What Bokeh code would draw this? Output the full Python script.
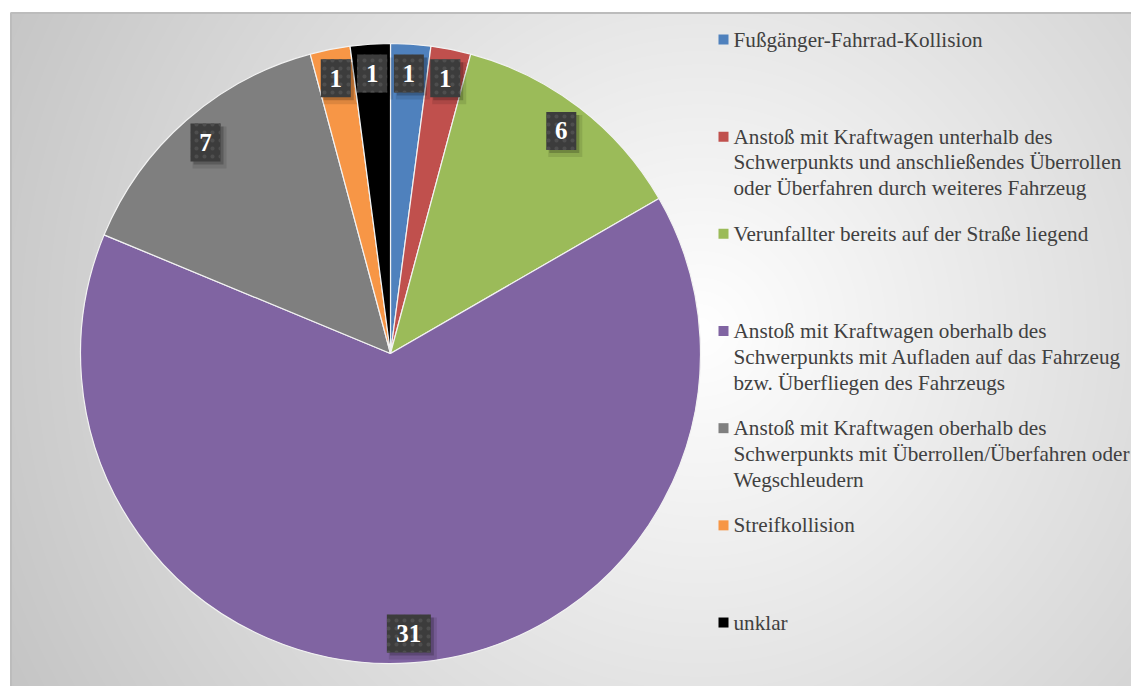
import numpy as np
from bokeh.plotting import figure
from bokeh.models import Range1d
from bokeh.embed import file_html
from bokeh.resources import INLINE
from bokeh.core.properties import value

# ---- data ----
categories = [
    "Fußgänger-Fahrrad-Kollision",
    "Anstoß mit Kraftwagen unterhalb des\nSchwerpunkts und anschließendes Überrollen\noder Überfahren durch weiteres Fahrzeug",
    "Verunfallter bereits auf der Straße liegend",
    "Anstoß mit Kraftwagen oberhalb des\nSchwerpunkts mit Aufladen auf das Fahrzeug\nbzw. Überfliegen des Fahrzeugs",
    "Anstoß mit Kraftwagen oberhalb des\nSchwerpunkts mit Überrollen/Überfahren oder\nWegschleudern",
    "Streifkollision",
    "unklar",
]
values = [1, 1, 6, 31, 7, 1, 1]
colors = ["#4f81bd", "#c0504d", "#9bbb59", "#8064a2", "#7f7f7f", "#f79646", "#000000"]

FONT = value("Liberation Serif")

# ---- layout ----
W, H = 1131, 686
def sx(x):  # screen x -> data x
    return x
def sy(y):  # screen y -> data y
    return H - y

p = figure(width=W, height=H, x_range=Range1d(0, W), y_range=Range1d(0, H),
           output_backend="svg", toolbar_location=None, min_border=0)
p.axis.visible = False
p.grid.visible = False
p.outline_line_color = None
p.background_fill_color = "white"
p.border_fill_color = "white"

# background radial gradient
bx0, by0 = 10, 0
bw, bh = W - bx0, H - 12
xs = np.arange(bw) + bx0 + 0.5
ys = H - (np.arange(bh) + by0 + 0.5)
XX, YY = np.meshgrid(xs, ys)
d = np.sqrt((XX - 700) ** 2 + (YY - 330) ** 2)
g = np.clip(255 - 0.075 * d, 0, 255).astype(np.uint8)
img = np.empty((bh, bw), dtype=np.uint32)
v = img.view(dtype=np.uint8).reshape((bh, bw, 4))
v[:, :, 0] = g
v[:, :, 1] = g
v[:, :, 2] = g
v[:, :, 3] = 255
p.image_rgba(image=[img], x=bx0, y=by0, dw=bw, dh=bh)

# chart border
p.segment(x0=[sx(10), sx(10.5)], y0=[sy(12.5), sy(H)], x1=[sx(W), sx(10.5)], y1=[sy(12.5), sy(12.5)],
          line_color="#bcbcbc", line_width=2)

# pie
cx, cy, R = sx(390), sy(353), 310
total = float(sum(values))
cum = np.concatenate([[0], np.cumsum(values)]) / total
start = np.radians(90 - 360 * cum[:-1])
end = np.radians(90 - 360 * cum[1:])
p.wedge(x=cx, y=cy, radius=R, start_angle=start, end_angle=end, direction="clock",
        fill_color=colors, line_color="#f2f2f2", line_width=1.2)

# data labels
mid = (start + end) / 2
lr = 0.905 * R
lx = cx + lr * np.cos(mid)
ly = cy + lr * np.sin(mid)
txt = [str(v_) for v_ in values]
bwid = [16 + 14 * len(t) for t in txt]
bhgt = 38
p.rect(x=lx + 4, y=ly - 5, width=[w + 4 for w in bwid], height=bhgt + 4,
       fill_color="black", fill_alpha=0.10, line_color=None)
p.rect(x=lx + 3, y=ly - 3, width=bwid, height=bhgt,
       fill_color="black", fill_alpha=0.20, line_color=None)
p.rect(x=lx, y=ly, width=bwid, height=bhgt, fill_color="#3c3c3c", line_color=None,
       hatch_pattern="dot", hatch_color="#4e4e4e", hatch_scale=8, hatch_weight=2)
p.text(x=lx, y=ly, text=txt, text_font=FONT, text_font_style="bold",
       text_font_size="25px", text_color="white", text_align="center", text_baseline="middle")

# legend
n = len(categories)
leg_y = [sy(39 + i * 97.17) for i in range(n)]
p.rect(x=sx(723), y=leg_y, width=10, height=10, fill_color=colors, line_color=None)
tx, ty, tt = [], [], []
for i, c in enumerate(categories):
    for j, line in enumerate(c.split("\n")):
        tx.append(sx(733))
        ty.append(leg_y[i] - j * 25.8)
        tt.append(line)
p.text(x=tx, y=ty, text=tt, text_font=FONT, text_font_size="21.2px",
       text_color="#404040", text_align="left", text_baseline="middle")

open("out.html", "w").write(file_html(p, INLINE))
